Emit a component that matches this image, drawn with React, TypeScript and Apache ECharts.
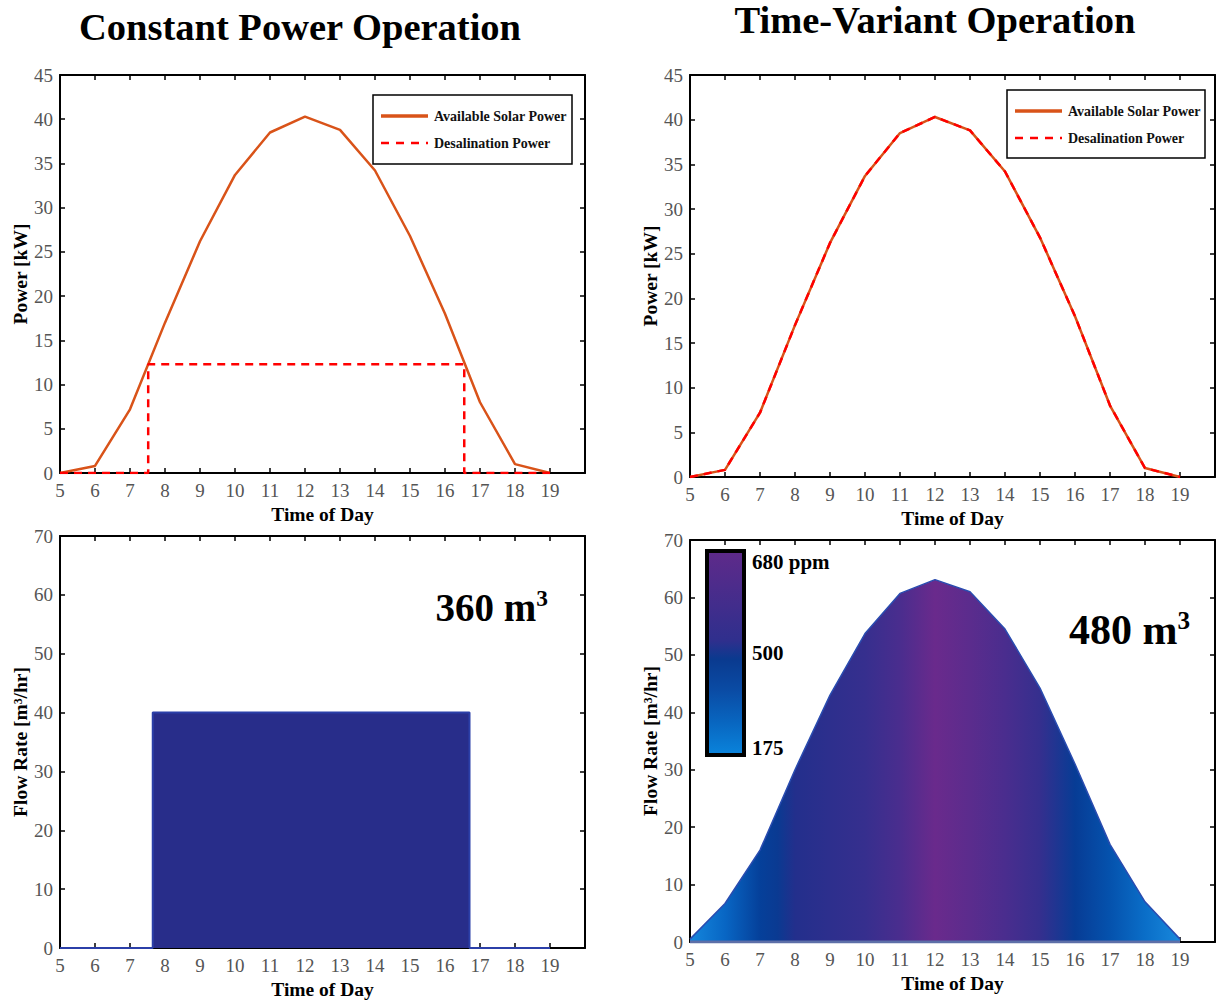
import React, { useEffect, useRef } from "react";
import * as echarts from "echarts";

const hours = [5, 6, 7, 8, 9, 10, 11, 12, 13, 14, 15, 16, 17, 18, 19];
const solarPower = [0, 0.8, 7.2, 17, 26.2, 33.7, 38.5, 40.3, 38.8, 34.2, 26.8, 18, 8, 1, 0];
const constDesalX = [5, 7.52, 7.52, 16.55, 16.55, 19];
const constDesalY = [0, 0, 12.3, 12.3, 0, 0];
const constFlowX = [5, 7.65, 7.65, 16.7, 16.7, 19];
const constFlowY = [0, 0, 40, 40, 0, 0];
const variableFlow = [0.5, 6.7, 16, 30, 43, 53.7, 60.7, 63.1, 61, 54.5, 44.2, 31, 17, 7, 0.5];
const salinityTicks = ["680 ppm", "500", "175"];
const xTicks = [5, 6, 7, 8, 9, 10, 11, 12, 13, 14, 15, 16, 17, 18, 19];

const FONT = "Liberation Serif";
const ORANGE = "#d95319";
const RED = "#ff0000";

const flowStops = [
  [5, "#1486dc"], [6, "#0866c4"], [7, "#05409a"], [7.5, "#0a3a92"], [8, "#232f8c"],
  [9, "#2d2f8d"], [10, "#362f8e"], [11, "#4a2d8e"], [12, "#6a2a8c"], [13, "#5b2c8d"],
  [14, "#4a2d8e"], [15, "#352f8e"], [16, "#073c95"], [17, "#0552ad"], [18, "#0a6ec8"], [19, "#1888dc"],
];

function xAxes(gridIndex: number) {
  const line = { show: true, onZero: false, lineStyle: { color: "#000", width: 2 } };
  const tick = { show: true, inside: true, length: 5, lineStyle: { color: "#000", width: 1.5 } };
  return [
    {
      type: "value", gridIndex, min: 5, max: 20, interval: 1, position: "bottom",
      axisLine: line, axisTick: tick, splitLine: { show: false },
      axisLabel: {
        color: "#555", fontFamily: FONT, fontSize: 19, margin: 8,
        formatter: (v: number) => (xTicks.includes(v) ? String(v) : ""),
      },
      name: "Time of Day", nameLocation: "middle", nameGap: 31,
      nameTextStyle: { color: "#000", fontFamily: FONT, fontSize: 19.5, fontWeight: "bold" },
    },
    {
      type: "value", gridIndex, min: 5, max: 20, interval: 1, position: "top",
      axisLine: line, axisTick: tick, splitLine: { show: false }, axisLabel: { show: false },
    },
  ];
}

function yAxes(gridIndex: number, max: number, interval: number, name: string) {
  const line = { show: true, onZero: false, lineStyle: { color: "#000", width: 2 } };
  const tick = { show: true, inside: true, length: 5, lineStyle: { color: "#000", width: 1.5 } };
  return [
    {
      type: "value", gridIndex, min: 0, max, interval, position: "left",
      axisLine: line, axisTick: tick, splitLine: { show: false },
      axisLabel: { color: "#555", fontFamily: FONT, fontSize: 19, margin: 7 },
      name, nameLocation: "middle", nameGap: 30, nameRotate: 90,
      nameTextStyle: { color: "#000", fontFamily: FONT, fontSize: 19.5, fontWeight: "bold" },
    },
    {
      type: "value", gridIndex, min: 0, max, interval, position: "right",
      axisLine: line, axisTick: tick, splitLine: { show: false }, axisLabel: { show: false },
    },
  ];
}

function legendBox(x: number, y: number, w: number, h: number) {
  return {
    type: "group", x, y,
    children: [
      { type: "rect", shape: { x: 0, y: 0, width: w, height: h }, style: { fill: "#fff", stroke: "#000", lineWidth: 1.5 } },
      { type: "line", shape: { x1: 8, y1: 21, x2: 55, y2: 21 }, style: { stroke: ORANGE, lineWidth: 3.5 } },
      { type: "text", x: 61, y: 21, style: { text: "Available Solar Power", fontFamily: FONT, fontSize: 14, fontWeight: "bold", fill: "#111", verticalAlign: "middle" } },
      { type: "line", shape: { x1: 8, y1: 48, x2: 55, y2: 48 }, style: { stroke: RED, lineWidth: 2.5, lineDash: [8, 7] } },
      { type: "text", x: 61, y: 48, style: { text: "Desalination Power", fontFamily: FONT, fontSize: 14, fontWeight: "bold", fill: "#111", verticalAlign: "middle" } },
    ],
  };
}

function volumeLabel(x: number, y: number, value: string, size: number) {
  return {
    type: "text", x, y,
    style: {
      text: `{a|${value} m}{b|3}`, align: "right", verticalAlign: "middle",
      rich: {
        a: { fontFamily: FONT, fontSize: size, fontWeight: "bold", fill: "#000" },
        b: { fontFamily: FONT, fontSize: size * 0.6, fontWeight: "bold", fill: "#000", padding: [0, 0, size * 0.45, 0] },
      },
    },
  };
}

export default function App() {
  const ref = useRef<HTMLDivElement>(null);
  useEffect(() => {
    if (!ref.current) return;
    const chart = echarts.init(ref.current, undefined, { renderer: "svg" });
    const pair = (xs: number[], ys: number[]) => xs.map((x, i) => [x, ys[i]]);
    const option: any = {
      animation: false,
      backgroundColor: "#fff",
      grid: [
        { left: 60, top: 75, width: 525, height: 398 },
        { left: 690, top: 75, width: 527, height: 402 },
        { left: 60, top: 536, width: 525, height: 412 },
        { left: 690, top: 540, width: 527, height: 402 },
      ],
      xAxis: [...xAxes(0), ...xAxes(1), ...xAxes(2), ...xAxes(3)],
      yAxis: [
        ...yAxes(0, 45, 5, "Power [kW]"),
        ...yAxes(1, 45, 5, "Power [kW]"),
        ...yAxes(2, 70, 10, "Flow Rate [m³/hr]"),
        ...yAxes(3, 70, 10, "Flow Rate [m³/hr]"),
      ],
      series: [
        {
          name: "Available Solar Power", type: "line", xAxisIndex: 0, yAxisIndex: 0, showSymbol: false,
          data: pair(hours, solarPower), lineStyle: { color: ORANGE, width: 2.5 }, itemStyle: { color: ORANGE },
        },
        {
          name: "Desalination Power", type: "line", xAxisIndex: 0, yAxisIndex: 0, showSymbol: false,
          data: pair(constDesalX, constDesalY), lineStyle: { color: RED, width: 2.5, type: [8, 6] }, itemStyle: { color: RED },
        },
        {
          name: "Available Solar Power", type: "line", xAxisIndex: 2, yAxisIndex: 2, showSymbol: false,
          data: pair(hours, solarPower), lineStyle: { color: ORANGE, width: 2.5 }, itemStyle: { color: ORANGE },
        },
        {
          name: "Desalination Power", type: "line", xAxisIndex: 2, yAxisIndex: 2, showSymbol: false,
          data: pair(hours, solarPower), lineStyle: { color: RED, width: 2.5, type: [8, 6] }, itemStyle: { color: RED },
        },
        {
          name: "Constant Flow", type: "line", xAxisIndex: 4, yAxisIndex: 4, showSymbol: false,
          data: pair(constFlowX, constFlowY), lineStyle: { color: "#2b3fa8", width: 2 },
          areaStyle: { color: "#282d8a", opacity: 1 }, itemStyle: { color: "#282d8a" },
        },
        {
          name: "Variable Flow", type: "line", xAxisIndex: 6, yAxisIndex: 6, showSymbol: false,
          data: pair(hours, variableFlow), lineStyle: { color: "#2a4cb0", width: 1.5 }, itemStyle: { color: "#2a4cb0" },
          areaStyle: {
            opacity: 1,
            color: {
              type: "linear", x: 0, y: 0, x2: 1, y2: 0,
              colorStops: flowStops.map(([h, c]) => ({ offset: ((h as number) - 5) / 14, color: c })),
            },
          },
        },
        {
          name: "Variable Flow Base", type: "line", xAxisIndex: 6, yAxisIndex: 6, showSymbol: false,
          data: [[5, 0], [19, 0]], lineStyle: { color: "#5d6fa8", width: 3 }, itemStyle: { color: "#5d6fa8" },
        },
      ],
      graphic: [
        { type: "text", x: 300, y: 27, style: { text: "Constant Power Operation", fontFamily: FONT, fontSize: 38.5, fontWeight: "bold", fill: "#000", align: "center", verticalAlign: "middle" } },
        { type: "text", x: 935, y: 20, style: { text: "Time-Variant Operation", fontFamily: FONT, fontSize: 38.5, fontWeight: "bold", fill: "#000", align: "center", verticalAlign: "middle" } },
        legendBox(373, 95, 199, 69),
        legendBox(1007, 90, 198, 68),
        volumeLabel(548, 607, "360", 39),
        volumeLabel(1190, 630, "480", 42),
        {
          type: "rect", shape: { x: 707, y: 551, width: 37, height: 204 },
          style: {
            stroke: "#000", lineWidth: 4,
            fill: {
              type: "linear", x: 0, y: 0, x2: 0, y2: 1,
              colorStops: [
                { offset: 0, color: "#5f2a8a" },
                { offset: 0.44, color: "#2f2f8d" },
                { offset: 0.53, color: "#0a3a8f" },
                { offset: 0.68, color: "#0a4ba4" },
                { offset: 0.84, color: "#0866c0" },
                { offset: 1, color: "#0a84dc" },
              ],
            },
          },
        },
        { type: "text", x: 752, y: 562, style: { text: salinityTicks[0], fontFamily: FONT, fontSize: 21, fontWeight: "bold", fill: "#000", verticalAlign: "middle" } },
        { type: "text", x: 752, y: 653, style: { text: salinityTicks[1], fontFamily: FONT, fontSize: 21, fontWeight: "bold", fill: "#000", verticalAlign: "middle" } },
        { type: "text", x: 752, y: 748, style: { text: salinityTicks[2], fontFamily: FONT, fontSize: 21, fontWeight: "bold", fill: "#000", verticalAlign: "middle" } },
      ],
    };
    chart.setOption(option);
    return () => chart.dispose();
  }, []);
  return <div ref={ref} style={{ position: "fixed", left: 0, top: 0, width: 1218, height: 1001, background: "#fff" }} />;
}
